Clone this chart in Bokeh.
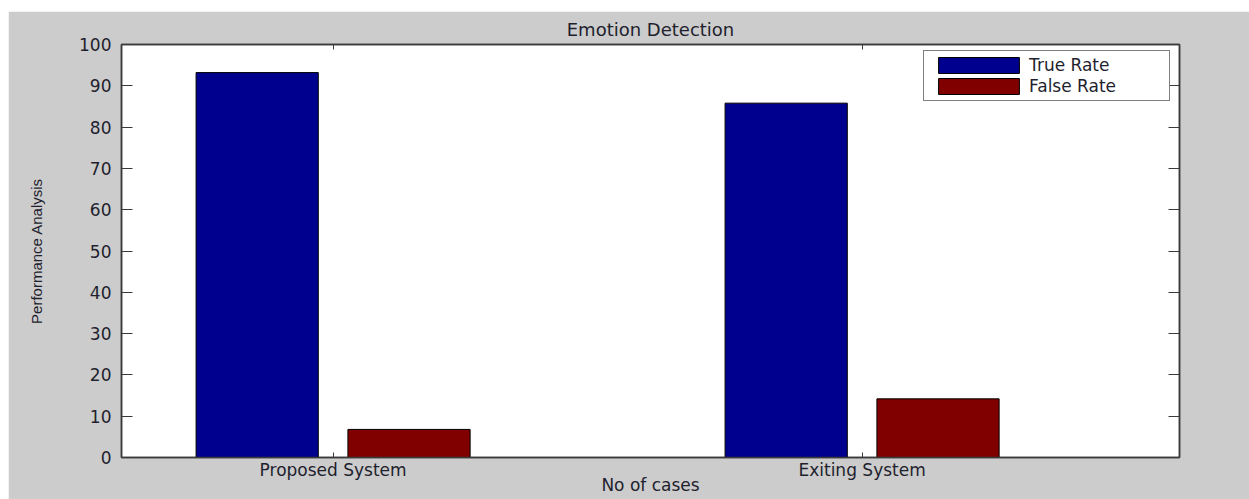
from bokeh.plotting import figure
from bokeh.models import (Range1d, FixedTicker, LinearAxis, Legend, LegendItem,
                          ColumnDataSource, Spacer)
from bokeh.layouts import column, row
from bokeh.embed import file_html
from bokeh.resources import INLINE

# ---- data ----
categories = ["Proposed System", "Exiting System"]
true_rate = [93.2, 85.8]
false_rate = [6.8, 14.2]
y_ticks = [0, 10, 20, 30, 40, 50, 60, 70, 80, 90, 100]

positions = list(range(1, len(categories) + 1))
bar_w = 0.231
offset = 0.1435

src = ColumnDataSource(dict(
    x_true=[p - offset for p in positions],
    x_false=[p + offset for p in positions],
    true_rate=true_rate,
    false_rate=false_rate,
))

FONT = "DejaVu Sans"
TXT = "#1f1f2e"
AX = "#3a3a3a"

p = figure(width=1241, height=488, output_backend="svg", toolbar_location=None,
           x_range=Range1d(0.6, 2.6), y_range=Range1d(0, 100),
           min_border_left=113, min_border_right=70, min_border_top=33,
           min_border_bottom=42, x_axis_label="No of cases",
           y_axis_label="Performance Analysis", title="Emotion Detection")
p.border_fill_color = "#cccccc"
p.background_fill_color = "white"
p.outline_line_color = AX
p.outline_line_width = 1.5
p.xgrid.visible = False
p.ygrid.visible = False

r_true = p.vbar(x="x_true", top="true_rate", width=bar_w, source=src,
                fill_color="#00008F", line_color="black", line_width=1)
r_false = p.vbar(x="x_false", top="false_rate", width=bar_w, source=src,
                 fill_color="#800000", line_color="black", line_width=1)

# title
p.title.text_font = FONT
p.title.text_font_size = "18px"
p.title.text_font_style = "normal"
p.title.text_color = TXT
p.title.align = "center"
p.title.standoff = 10

# x axis
xa = p.xaxis[0]
xa.ticker = FixedTicker(ticks=positions)
xa.major_label_overrides = {pos: c for pos, c in zip(positions, categories)}
xa.major_tick_in = 5
xa.major_tick_out = 0
xa.minor_tick_line_color = None
xa.axis_line_color = AX
xa.axis_line_width = 1.5
xa.major_tick_line_color = AX
xa.major_label_text_font = FONT
xa.major_label_text_font_size = "17px"
xa.major_label_text_color = TXT
xa.major_label_standoff = 2
xa.axis_label_text_font = FONT
xa.axis_label_text_font_size = "17px"
xa.axis_label_text_font_style = "normal"
xa.axis_label_text_color = TXT
xa.axis_label_standoff = -8

# y axis
ya = p.yaxis[0]
ya.ticker = FixedTicker(ticks=y_ticks)
ya.major_tick_in = 11
ya.major_tick_out = 0
ya.minor_tick_line_color = None
ya.axis_line_color = AX
ya.axis_line_width = 1.5
ya.major_tick_line_color = AX
ya.major_label_text_font = FONT
ya.major_label_text_font_size = "17px"
ya.major_label_text_color = TXT
ya.major_label_standoff = 10
ya.axis_label_text_font = "Liberation Sans"
ya.axis_label_text_font_size = "15px"
ya.axis_label_text_font_style = "normal"
ya.axis_label_text_color = TXT
ya.axis_label_standoff = 31

# mirrored axes (right / top) with inward ticks, no labels
ra = LinearAxis(ticker=FixedTicker(ticks=y_ticks), major_tick_in=11, major_tick_out=0,
                minor_tick_line_color=None, axis_line_color=AX, axis_line_width=1.5,
                major_tick_line_color=AX, major_label_text_color=None,
                major_label_text_font_size="1px", major_label_standoff=0)
p.add_layout(ra, "right")
ta = LinearAxis(ticker=FixedTicker(ticks=positions), major_tick_in=5, major_tick_out=0,
                minor_tick_line_color=None, axis_line_color=AX, axis_line_width=1.5,
                major_tick_line_color=AX, major_label_text_color=None,
                major_label_text_font_size="1px", major_label_standoff=0)
p.add_layout(ta, "above")

legend = Legend(items=[LegendItem(label="True Rate", renderers=[r_true]),
                       LegendItem(label="False Rate", renderers=[r_false])],
                location=(802, 356), orientation="vertical")
legend.glyph_width = 101
legend.glyph_height = 20
legend.label_height = 20
legend.label_width = 136
legend.label_standoff = 0
legend.spacing = 1
legend.padding = 4
legend.margin = 0
legend.border_line_color = "black"
legend.border_line_width = 1
legend.background_fill_color = "white"
legend.label_text_font = FONT
legend.label_text_font_size = "17px"
legend.label_text_color = TXT
p.add_layout(legend, "center")

layout = column(Spacer(height=11, width=1249),
                row(Spacer(width=8, height=488), p))
open("out.html", "w").write(file_html(layout, INLINE))
